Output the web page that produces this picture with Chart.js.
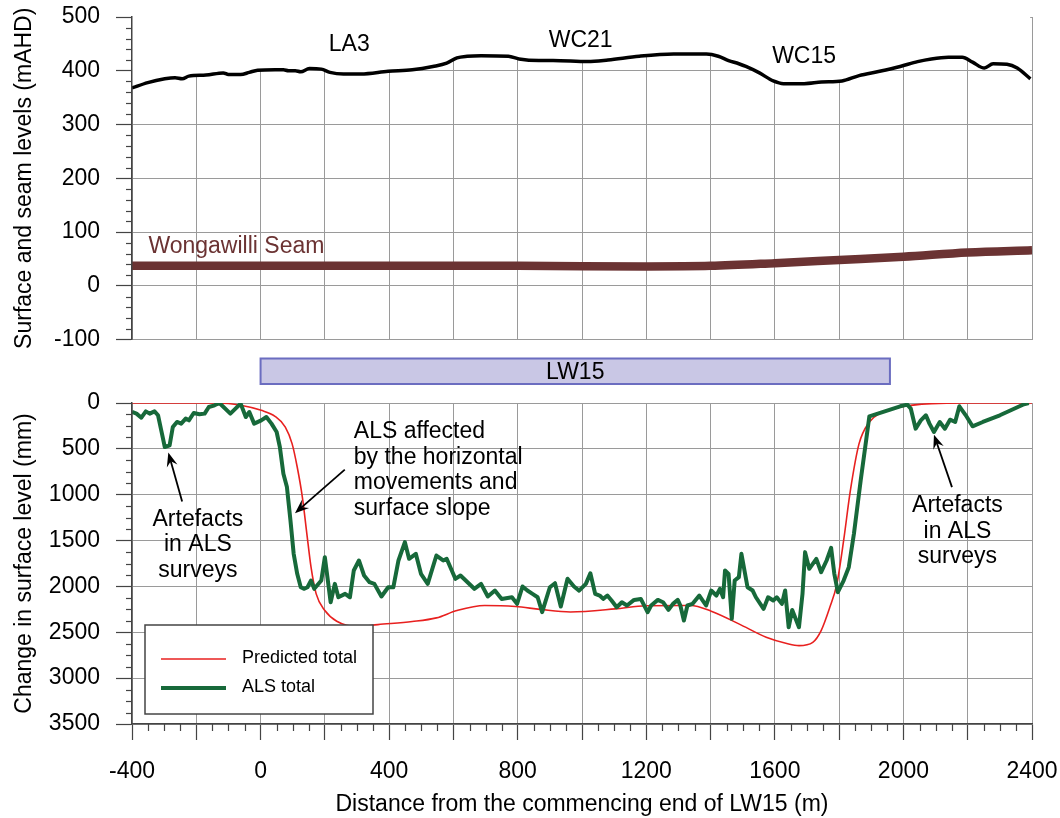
<!DOCTYPE html>
<html>
<head>
<meta charset="utf-8">
<script src="https://cdn.jsdelivr.net/npm/chart.js@4.4.1/dist/chart.umd.min.js"></script>
<style>
  html, body { margin: 0; padding: 0; background: #fff; }
  #wrap { position: relative; width: 1060px; height: 818px; }
  #wrap canvas { position: absolute; left: 0; }
  #top { top: 0; }
  #bottom { top: 340px; }
</style>
</head>
<body>
<div id="wrap">
  <canvas id="top" width="1060" height="360"></canvas>
  <canvas id="bottom" width="1060" height="478"></canvas>
</div>
<script>
// ---- surface profile (mAHD) ----
const surfaceX = [-400, -351, -298, -266, -244, -223, -170, -116, -100, -62, -35, -9, 45, 71, 87, 108, 125, 152, 189, 216, 258, 312, 397, 472, 536, 579, 611, 643, 686, 771, 804, 866, 910, 1018, 1081, 1178, 1285, 1387, 1424, 1456, 1488, 1510, 1552, 1595, 1627, 1691, 1745, 1809, 1862, 1926, 1990, 2044, 2087, 2140, 2183, 2215, 2252, 2279, 2322, 2354, 2395];
const surfaceY = [368, 378, 385, 387, 385, 390, 392, 396, 393, 393, 397, 401, 402, 402, 400, 400, 398, 404, 403, 397, 394, 394, 399, 402, 408, 414, 424, 427, 428, 427, 422, 419, 419, 417, 420, 427, 431, 431, 427, 419, 413, 408, 396, 381, 376, 376, 379, 381, 391, 399, 408, 417, 422, 425, 425, 416, 405, 413, 412, 405, 385];

// ---- Wongawilli Seam (mAHD) ----
const seamX = [-400, 0, 400, 800, 1200, 1400, 1600, 1800, 2000, 2200, 2400];
const seamY = [37, 37, 37, 37, 36, 37, 42, 48, 54, 62, 66];

// ---- predicted total subsidence (mm) ----
const predX = [-400, -130, -62, 2, 45, 77, 98, 114, 130, 144, 157, 173, 200, 237, 301, 365, 472, 547, 611, 697, 793, 870, 964, 1103, 1199, 1338, 1402, 1488, 1573, 1640, 1675, 1718, 1744, 1771, 1793, 1814, 1835, 1862, 1894, 1926, 1990, 2087, 2200, 2400];
const predY = [0, 0, 25, 80, 145, 262, 443, 698, 1026, 1426, 1790, 2081, 2263, 2380, 2438, 2416, 2383, 2343, 2263, 2208, 2219, 2250, 2278, 2245, 2210, 2208, 2270, 2408, 2554, 2625, 2645, 2609, 2481, 2227, 1972, 1499, 953, 443, 207, 116, 44, 7, 0, 0];

// ---- ALS total subsidence (mm) ----
const alsX = [-400, -386, -371, -357, -345, -330, -319, -309, -298, -283, -273, -260, -247, -233, -223, -208, -190, -174, -161, -143, -128, -94, -62, -46, -35, -20, 2, 18, 34, 50, 60, 71, 82, 93, 103, 114, 125, 136, 146, 157, 167, 189, 200, 218, 231, 242, 263, 278, 290, 306, 322, 339, 354, 376, 397, 413, 429, 449, 462, 483, 499, 520, 547, 568, 579, 606, 622, 665, 686, 707, 729, 750, 782, 798, 815, 830, 846, 862, 876, 900, 916, 934, 955, 975, 991, 1012, 1026, 1041, 1055, 1066, 1079, 1092, 1108, 1124, 1140, 1162, 1183, 1204, 1215, 1236, 1252, 1269, 1283, 1298, 1306, 1317, 1328, 1344, 1365, 1386, 1402, 1418, 1429, 1439, 1445, 1456, 1466, 1475, 1488, 1496, 1515, 1531, 1541, 1565, 1579, 1595, 1606, 1622, 1632, 1643, 1654, 1675, 1686, 1694, 1707, 1729, 1744, 1761, 1775, 1785, 1796, 1814, 1830, 1846, 1867, 1884, 1894, 1990, 2012, 2023, 2038, 2054, 2070, 2081, 2095, 2113, 2129, 2145, 2161, 2174, 2194, 2215, 2247, 2300, 2375, 2390];
const alsY = [98, 116, 160, 91, 116, 91, 134, 298, 480, 462, 262, 207, 225, 170, 189, 109, 123, 116, 44, 25, 0, 116, 7, 153, 98, 225, 189, 153, 225, 316, 480, 771, 917, 1281, 1644, 1863, 2009, 2026, 2009, 1936, 2026, 1936, 1681, 2172, 1972, 2118, 2081, 2118, 1826, 1717, 1881, 1954, 1972, 2110, 2009, 2009, 1717, 1517, 1699, 1644, 1863, 1972, 1663, 1717, 1699, 1917, 1881, 2026, 1972, 2110, 2045, 2136, 2118, 2190, 2001, 2045, 2081, 2118, 2281, 2009, 1965, 2219, 1917, 2001, 2045, 1972, 1856, 2081, 2099, 2136, 2099, 2154, 2227, 2172, 2208, 2147, 2136, 2281, 2208, 2147, 2172, 2256, 2190, 2147, 2208, 2372, 2208, 2190, 2099, 2208, 2045, 2099, 2026, 2118, 1826, 1863, 2353, 1936, 1899, 1644, 2009, 2045, 2118, 2245, 2118, 2154, 2118, 2190, 2045, 2445, 2256, 2445, 2081, 1626, 1808, 1699, 1845, 1717, 1579, 1863, 2063, 1936, 1790, 1426, 844, 407, 145, 36, 18, 62, 280, 189, 134, 225, 316, 207, 280, 182, 207, 36, 134, 254, 207, 134, 14, 0];

// ---- LW15 panel extent (m) ----
const lw15Extent = [0, 1958];

// ---- axis ranges ----
const xRange = [-400, 2400];
const topYRange = [-100, 500];
const bottomYRange = [0, 3500];

const toPoints = (xs, ys) => xs.map((x, i) => ({ x: x, y: ys[i] }));

const FONT = "'Liberation Sans', Arial, sans-serif";
Chart.defaults.font.family = FONT;
Chart.defaults.font.size = 23;
Chart.defaults.color = '#000';

const GRID = '#9a9a9a';
const AXIS = '#444';

// minor tick marks (shorter than the major ones)
const minorTicks = {
  id: 'minorTicks',
  afterDraw(chart, args, opts) {
    const ctx = chart.ctx;
    ctx.save();
    ctx.strokeStyle = AXIS;
    ctx.lineWidth = 1.2;
    for (const id of Object.keys(opts.axes || {})) {
      const s = chart.scales[id];
      const { len, major } = opts.axes[id];
      s.ticks.forEach(t => {
        if (Math.abs(t.value % major) < 1e-6) return;
        const p = Math.round(s.getPixelForValue(t.value)) + 0.5;
        ctx.beginPath();
        if (s.isHorizontal()) { ctx.moveTo(p, s.top); ctx.lineTo(p, s.top + len); }
        else { ctx.moveTo(s.right - len, p); ctx.lineTo(s.right, p); }
        ctx.stroke();
      });
    }
    ctx.restore();
  }
};

// texts and arrows placed in data coordinates
const notes = {
  id: 'notes',
  afterDraw(chart, args, opts) {
    const ctx = chart.ctx;
    const xs = chart.scales.x, ys = chart.scales.y;
    ctx.save();
    (opts.texts || []).forEach(t => {
      ctx.font = (t.size || 23) + 'px ' + FONT;
      ctx.fillStyle = t.color || '#000';
      ctx.textAlign = t.align || 'center';
      ctx.textBaseline = 'middle';
      const px = xs.getPixelForValue(t.x);
      const py = ys.getPixelForValue(t.y);
      t.lines.forEach((l, i) => ctx.fillText(l, px, py + i * 25.5));
    });
    (opts.arrows || []).forEach(a => {
      const x1 = xs.getPixelForValue(a.from[0]), y1 = ys.getPixelForValue(a.from[1]);
      const x2 = xs.getPixelForValue(a.to[0]), y2 = ys.getPixelForValue(a.to[1]);
      const c = Math.cos(Math.atan2(y2 - y1, x2 - x1)), s = Math.sin(Math.atan2(y2 - y1, x2 - x1));
      ctx.strokeStyle = '#000';
      ctx.fillStyle = '#000';
      ctx.lineWidth = 1.8;
      ctx.beginPath();
      ctx.moveTo(x1, y1);
      ctx.lineTo(x2 - 8 * c, y2 - 8 * s);
      ctx.stroke();
      ctx.beginPath();
      ctx.moveTo(x2, y2);
      ctx.lineTo(x2 - 14 * c + 5.5 * s, y2 - 14 * s - 5.5 * c);
      ctx.lineTo(x2 - 9 * c, y2 - 9 * s);
      ctx.lineTo(x2 - 14 * c - 5.5 * s, y2 - 14 * s + 5.5 * c);
      ctx.closePath();
      ctx.fill();
    });
    ctx.restore();
  }
};

// LW15 panel bar above the lower chart
const panelBar = {
  id: 'panelBar',
  afterDraw(chart, args, opts) {
    const ctx = chart.ctx;
    const xs = chart.scales.x;
    const a = chart.chartArea;
    const x1 = xs.getPixelForValue(lw15Extent[0]);
    const x2 = xs.getPixelForValue(lw15Extent[1]);
    const y1 = a.top - 44.5, y2 = a.top - 19;
    ctx.save();
    ctx.fillStyle = '#c9c7e5';
    ctx.strokeStyle = '#6b6dc0';
    ctx.lineWidth = 2;
    ctx.fillRect(x1, y1, x2 - x1, y2 - y1);
    ctx.strokeRect(x1, y1, x2 - x1, y2 - y1);
    ctx.fillStyle = '#000';
    ctx.font = '23px ' + FONT;
    ctx.textAlign = 'center';
    ctx.textBaseline = 'middle';
    ctx.fillText(opts.text, (x1 + x2) / 2, (y1 + y2) / 2 + 1);
    ctx.restore();
  }
};

// legend box inside the lower plot
const boxLegend = {
  id: 'boxLegend',
  afterDraw(chart) {
    const ctx = chart.ctx;
    const a = chart.chartArea;
    const bx = a.left + 13, by = a.bottom - 99, bw = 228, bh = 89;
    ctx.save();
    ctx.fillStyle = '#fff';
    ctx.fillRect(bx, by, bw, bh);
    ctx.strokeStyle = '#444';
    ctx.lineWidth = 1.5;
    ctx.strokeRect(bx, by, bw, bh);
    ctx.font = '18px ' + FONT;
    ctx.textBaseline = 'middle';
    ctx.textAlign = 'left';
    chart.data.datasets.forEach((ds, i) => {
      const y = by + 34 + i * 29;
      ctx.strokeStyle = ds.borderColor;
      ctx.lineWidth = ds.borderWidth;
      ctx.beginPath();
      ctx.moveTo(bx + 16, y);
      ctx.lineTo(bx + 81, y);
      ctx.stroke();
      ctx.fillStyle = '#000';
      ctx.fillText(ds.label, bx + 97, y - 1);
    });
    ctx.restore();
  }
};

const isMajor = (c, major) => c.tick && Math.abs(c.tick.value % major) < 1e-6;
const gridFor = (major) => ({
  color: c => (isMajor(c, major) ? GRID : 'transparent'),
  tickLength: 16,
  tickColor: c => (isMajor(c, major) ? AXIS : 'transparent'),
  tickWidth: 1.2,
  lineWidth: 1
});
// keep the plot box fixed: no extra room for half labels
const fixY = s => { s.width = 132; s.paddingTop = 0; s.paddingBottom = 0; };

// ================= TOP PANEL =================
new Chart(document.getElementById('top'), {
  type: 'line',
  data: {
    datasets: [
      { label: 'Surface', data: toPoints(surfaceX, surfaceY), borderColor: '#000', borderWidth: 3.5,
        pointRadius: 0, fill: 'end', backgroundColor: '#fff', cubicInterpolationMode: 'monotone' },
      { label: 'Wongawilli Seam', data: toPoints(seamX, seamY), borderColor: '#6b3333', borderWidth: 8.5,
        pointRadius: 0, fill: false, cubicInterpolationMode: 'monotone' }
    ]
  },
  plugins: [minorTicks, notes],
  options: {
    responsive: false,
    animation: false,
    events: [],
    layout: { padding: { top: 17, right: 28, bottom: 20.5, left: 0 } },
    scales: {
      x: {
        type: 'linear', min: xRange[0], max: xRange[1],
        afterFit: s => { s.height = 0; s.paddingLeft = 0; s.paddingRight = 0; },
        ticks: { display: false, stepSize: 200 },
        grid: { color: GRID, drawTicks: false, lineWidth: 1 },
        border: { display: false }
      },
      y: {
        min: topYRange[0], max: topYRange[1],
        afterFit: fixY,
        ticks: { stepSize: 20, autoSkip: false, padding: 16, callback: v => (v % 100 === 0 ? v : '') },
        grid: gridFor(100),
        border: { color: AXIS, width: 1.5, z: 1 },
        title: { display: true, text: 'Surface and seam levels (mAHD)', padding: { top: 11, bottom: 0 } }
      }
    },
    plugins: {
      legend: { display: false },
      tooltip: { enabled: false },
      minorTicks: { axes: { y: { len: 6, major: 100 } } },
      notes: {
        texts: [
          { x: 276, y: 448, lines: ['LA3'] },
          { x: 996, y: 456, lines: ['WC21'] },
          { x: 1691, y: 426, lines: ['WC15'] },
          { x: -349, y: 72, lines: ['Wongawilli Seam'], align: 'left', color: '#6b3333' }
        ]
      }
    }
  }
});

// ================= BOTTOM PANEL =================
new Chart(document.getElementById('bottom'), {
  type: 'line',
  data: {
    datasets: [
      { label: 'Predicted total', data: toPoints(predX, predY), borderColor: '#e8201f', borderWidth: 1.6,
        pointRadius: 0, fill: false, order: 1, cubicInterpolationMode: 'monotone' },
      { label: 'ALS total', data: toPoints(alsX, alsY), borderColor: '#17693a', borderWidth: 4,
        pointRadius: 0, fill: false, order: 0, tension: 0, borderJoinStyle: 'round' }
    ]
  },
  plugins: [minorTicks, notes, panelBar, boxLegend],
  options: {
    responsive: false,
    animation: false,
    events: [],
    layout: { padding: { top: 63, right: 28, bottom: 0, left: 0 } },
    scales: {
      x: {
        type: 'linear', min: xRange[0], max: xRange[1],
        afterFit: s => { s.height = 94; s.paddingLeft = 0; s.paddingRight = 0; },
        ticks: { stepSize: 50, autoSkip: false, minRotation: 0, maxRotation: 0, padding: 18,
          callback: v => (v % 400 === 0 ? v : '') },
        grid: gridFor(200),
        border: { color: AXIS, width: 1.5, z: 1 },
        title: { display: true, text: 'Distance from the commencing end of LW15 (m)', padding: { top: 4, bottom: 0 } }
      },
      y: {
        reverse: true, min: bottomYRange[0], max: bottomYRange[1],
        afterFit: fixY,
        ticks: { stepSize: 125, autoSkip: false, padding: 16, callback: v => (v % 500 === 0 ? v : '') },
        grid: gridFor(500),
        border: { color: AXIS, width: 1.5, z: 1 },
        title: { display: true, text: 'Change in surface level (mm)', padding: { top: 11, bottom: 0 } }
      }
    },
    plugins: {
      legend: { display: false },
      tooltip: { enabled: false },
      minorTicks: { axes: { x: { len: 7, major: 200 }, y: { len: 6, major: 500 } } },
      panelBar: { text: 'LW15' },
      notes: {
        texts: [
          { x: 290, y: 317, lines: ['ALS affected', 'by the horizontal', 'movements and', 'surface slope'], align: 'left' },
          { x: -195, y: 1271, lines: ['Artefacts', 'in ALS', 'surveys'] },
          { x: 2168, y: 1124, lines: ['Artefacts', 'in ALS', 'surveys'] }
        ],
        arrows: [
          { from: [262, 727], to: [107, 1201] },
          { from: [-244, 1073], to: [-287, 541] },
          { from: [2151, 917], to: [2095, 345] }
        ]
      }
    }
  }
});
</script>
</body>
</html>
